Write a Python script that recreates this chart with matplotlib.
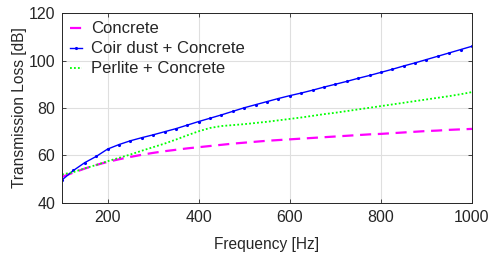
import matplotlib
matplotlib.use("Agg")
import matplotlib.pyplot as plt
import numpy as np

freq = list(range(100, 1001, 25))
concrete = [51, 52.8, 54.5, 56, 57.3, 58.4, 59.4, 60.3, 61.1, 61.8, 62.4, 63, 63.5, 64, 64.5, 65,
            65.4, 65.8, 66.2, 66.5, 66.8, 67.1, 67.4, 67.7, 68, 68.3, 68.6, 68.9, 69.1, 69.4,
            69.7, 70, 70.3, 70.5, 70.8, 71, 71.2]
coir = [49.7, 53.7, 57, 59.6, 62.7, 64.6, 66.2, 67.5, 68.7, 70, 71.3, 72.8, 74.3, 75.7, 77.1,
        78.6, 80.1, 81.4, 82.7, 84, 85.2, 86.3, 87.5, 88.8, 90, 91.2, 92.5, 93.7, 95, 96.3,
        97.7, 99, 100.4, 101.8, 103.2, 104.6, 106]
perlite = [52, 53, 54.6, 56, 57.6, 59, 60.4, 62, 63.5, 65, 66.7, 68.5, 70.2, 71.6, 72.4, 72.8,
           73.2, 73.7, 74.2, 74.8, 75.4, 76, 76.7, 77.4, 78, 78.7, 79.4, 80.1, 80.8, 81.5,
           82.2, 82.9, 83.6, 84.3, 85, 85.8, 86.7]
labels = ["Concrete", "Coir dust + Concrete", "Perlite + Concrete"]
xticks = [200, 400, 600, 800, 1000]
yticks = [40, 60, 80, 100, 120]

plt.rcParams['font.family'] = ['Liberation Sans', 'DejaVu Sans']
tc = '#262626'
fig = plt.figure(figsize=(4.91, 2.54), dpi=100)
ax = fig.add_axes([0.1263, 0.2008, 0.835, 0.748])

ax.plot(freq, concrete, color=(1, 0, 1), linestyle=(0, (5, 3)), linewidth=1.6, label=labels[0])
ax.plot(freq, coir, color=(0, 0, 1), linestyle='-', linewidth=1.0, marker='.', markersize=2.5, label=labels[1])
ax.plot(freq, perlite, color=(0, 1, 0), linestyle=(0, (1, 1.2)), linewidth=1.3, label=labels[2])

ax.set_xlim(100, 1000)
ax.set_ylim(40, 120)
ax.set_xticks(xticks)
ax.set_yticks(yticks)
ax.grid(True, color='#dfdfdf', linewidth=0.8)
ax.set_axisbelow(True)
ax.tick_params(direction='in', top=True, right=True, labelsize=11.5, colors=tc, length=3, width=0.6, pad=5)
for s in ax.spines.values():
    s.set_color(tc)
    s.set_linewidth(0.7)
ax.set_xlabel("Frequency [Hz]", fontsize=11.2, color=tc, labelpad=9)
ax.set_ylabel("Transmission Loss [dB]", fontsize=11.2, color=tc, labelpad=1)
leg = ax.legend(loc='upper left', frameon=False, fontsize=12, handlelength=0.7,
                handletextpad=0.55, borderaxespad=0.1, labelspacing=0.3, labelcolor=tc,
                bbox_to_anchor=(0.0, 1.0))
fig.savefig("out.png", dpi=100)
